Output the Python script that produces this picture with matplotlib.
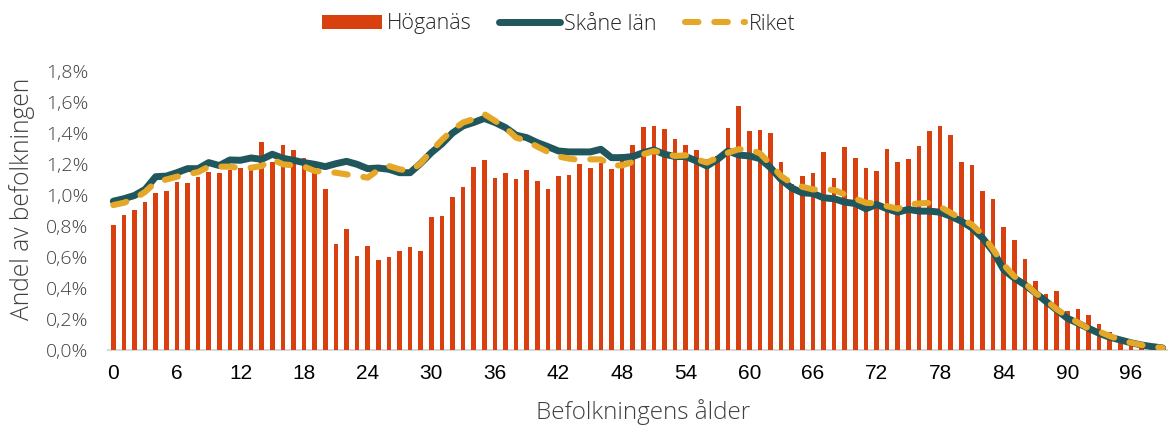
import matplotlib
matplotlib.use("Agg")
import matplotlib.pyplot as plt
from matplotlib.ticker import FuncFormatter, MultipleLocator
import numpy as np

ages = list(range(0, 100))

hoganas = [
    0.805, 0.870, 0.906, 0.954, 1.014, 1.025, 1.086, 1.075, 1.116, 1.150,
    1.142, 1.159, 1.176, 1.191, 1.345, 1.215, 1.323, 1.289, 1.241, 1.190,
    1.036, 0.684, 0.783, 0.609, 0.673, 0.583, 0.598, 0.641, 0.665, 0.641,
    0.861, 0.866, 0.989, 1.049, 1.181, 1.228, 1.107, 1.144, 1.105, 1.163,
    1.088, 1.038, 1.122, 1.127, 1.200, 1.174, 1.205, 1.166, 1.263, 1.321,
    1.437, 1.442, 1.425, 1.360, 1.325, 1.289, 1.230, 1.250, 1.435, 1.576,
    1.414, 1.418, 1.399, 1.213, 1.070, 1.122, 1.144, 1.278, 1.107, 1.308,
    1.237, 1.174, 1.153, 1.299, 1.213, 1.235, 1.319, 1.412, 1.444, 1.384,
    1.213, 1.191, 1.023, 0.973, 0.792, 0.712, 0.587, 0.447, 0.360, 0.378,
    0.253, 0.265, 0.227, 0.166, 0.115, 0.070, 0.050, 0.030, 0.020, 0.010,
]

skane = [
    0.960, 0.976, 0.997, 1.036, 1.118, 1.122, 1.144, 1.170, 1.170, 1.209,
    1.190, 1.226, 1.224, 1.239, 1.230, 1.263, 1.237, 1.224, 1.209, 1.198,
    1.183, 1.202, 1.217, 1.198, 1.170, 1.174, 1.166, 1.144, 1.144, 1.204,
    1.273, 1.330, 1.400, 1.446, 1.468, 1.494, 1.468, 1.435, 1.386, 1.370,
    1.338, 1.312, 1.284, 1.278, 1.278, 1.278, 1.295, 1.241, 1.241, 1.248,
    1.273, 1.291, 1.263, 1.248, 1.248, 1.220, 1.187, 1.230, 1.284, 1.258,
    1.252, 1.235, 1.176, 1.100, 1.045, 1.014, 1.010, 0.982, 0.976, 0.954,
    0.945, 0.911, 0.939, 0.911, 0.889, 0.907, 0.896, 0.896, 0.889, 0.863,
    0.831, 0.788, 0.723, 0.637, 0.518, 0.464, 0.421, 0.367, 0.313, 0.259,
    0.205, 0.173, 0.140, 0.108, 0.082, 0.065, 0.047, 0.032, 0.022, 0.013,
]

riket = [
    0.935, 0.950, 0.976, 1.020, 1.083, 1.100, 1.118, 1.133, 1.148, 1.183,
    1.183, 1.183, 1.174, 1.176, 1.187, 1.230, 1.198, 1.191, 1.183, 1.155,
    1.148, 1.144, 1.133, 1.122, 1.112, 1.161, 1.187, 1.166, 1.155, 1.204,
    1.284, 1.355, 1.420, 1.468, 1.490, 1.522, 1.479, 1.435, 1.370, 1.349,
    1.312, 1.278, 1.248, 1.235, 1.226, 1.230, 1.230, 1.191, 1.191, 1.213,
    1.263, 1.284, 1.267, 1.252, 1.256, 1.230, 1.209, 1.241, 1.273, 1.295,
    1.295, 1.269, 1.198, 1.122, 1.075, 1.053, 1.036, 1.036, 1.032, 1.004,
    0.976, 0.950, 0.945, 0.928, 0.911, 0.939, 0.945, 0.950, 0.924, 0.885,
    0.846, 0.809, 0.745, 0.648, 0.550, 0.475, 0.432, 0.367, 0.319, 0.263,
    0.216, 0.177, 0.140, 0.119, 0.090, 0.065, 0.047, 0.032, 0.022, 0.013,
]

x_ticks = list(range(0, 97, 6))

series_names = ["Höganäs", "Skåne län", "Riket"]
x_label = "Befolkningens ålder"
y_label = "Andel av befolkningen"

RED = "#D8410F"
TEAL = "#1F575C"
GOLD = "#E5A727"
GRAY = "#404040"

W, H = 1168, 428
fig = plt.figure(figsize=(W / 100, H / 100), dpi=100)
ax = fig.add_axes([108 / W, 1 - 350 / H, (W - 108) / W, (350 - 71) / H])

bars = ax.bar(ages, hoganas, width=0.42, color=RED, label=series_names[0], zorder=2)
l1, = ax.plot(ages, skane, color=TEAL, lw=5.0, solid_capstyle="round",
              solid_joinstyle="round", label=series_names[1], zorder=3)
l2, = ax.plot(ages, riket, color=GOLD, lw=4.4, linestyle=(0, (2.2, 2.6)),
              dash_capstyle="round", dash_joinstyle="round",
              label=series_names[2], zorder=4)

ax.set_xlim(-0.5, 99.5)
ax.set_ylim(0, 1.8)
ax.yaxis.set_major_locator(MultipleLocator(0.2))
ax.yaxis.set_major_formatter(
    FuncFormatter(lambda v, p: f"{v:.1f}".replace(".", ",") + "%"))
ax.set_xticks(x_ticks)
ax.set_xticklabels([str(t) for t in x_ticks])

for s in ["top", "right", "left"]:
    ax.spines[s].set_visible(False)
ax.spines["bottom"].set_color("#D9D9D9")
ax.spines["bottom"].set_linewidth(1.5)
ax.spines["bottom"].set_zorder(1)

ax.tick_params(axis="x", length=0, pad=10, labelsize=15, labelcolor="black")
ax.tick_params(axis="y", length=0, pad=14, labelsize=14, labelcolor=GRAY)
for lab in ax.get_xticklabels():
    lab.set_fontfamily("Liberation Sans")
for lab in ax.get_yticklabels():
    lab.set_fontfamily("Open Sans")
    lab.set_fontweight("light")

fig.text(643 / W, 1 - 412 / H, x_label, ha="center", va="center",
         fontsize=17.5, color=GRAY, family="Open Sans", fontweight="light")
fig.text(22 / W, 1 - 199 / H, y_label, ha="center", va="center",
         rotation=90, fontsize=17.7, color=GRAY, family="Open Sans",
         fontweight="light")

leg = fig.legend([bars, l1, l2], series_names,
                 loc="center", bbox_to_anchor=(559 / W, 1 - 24 / H), ncol=3,
                 frameon=False, handlelength=2.8, handleheight=0.6,
                 handletextpad=0.2, columnspacing=1.3,
                 prop={"family": "Open Sans", "size": 15.5, "weight": "light"})
for t in leg.get_texts():
    t.set_color("#262626")

fig.savefig("out.png", dpi=100)
